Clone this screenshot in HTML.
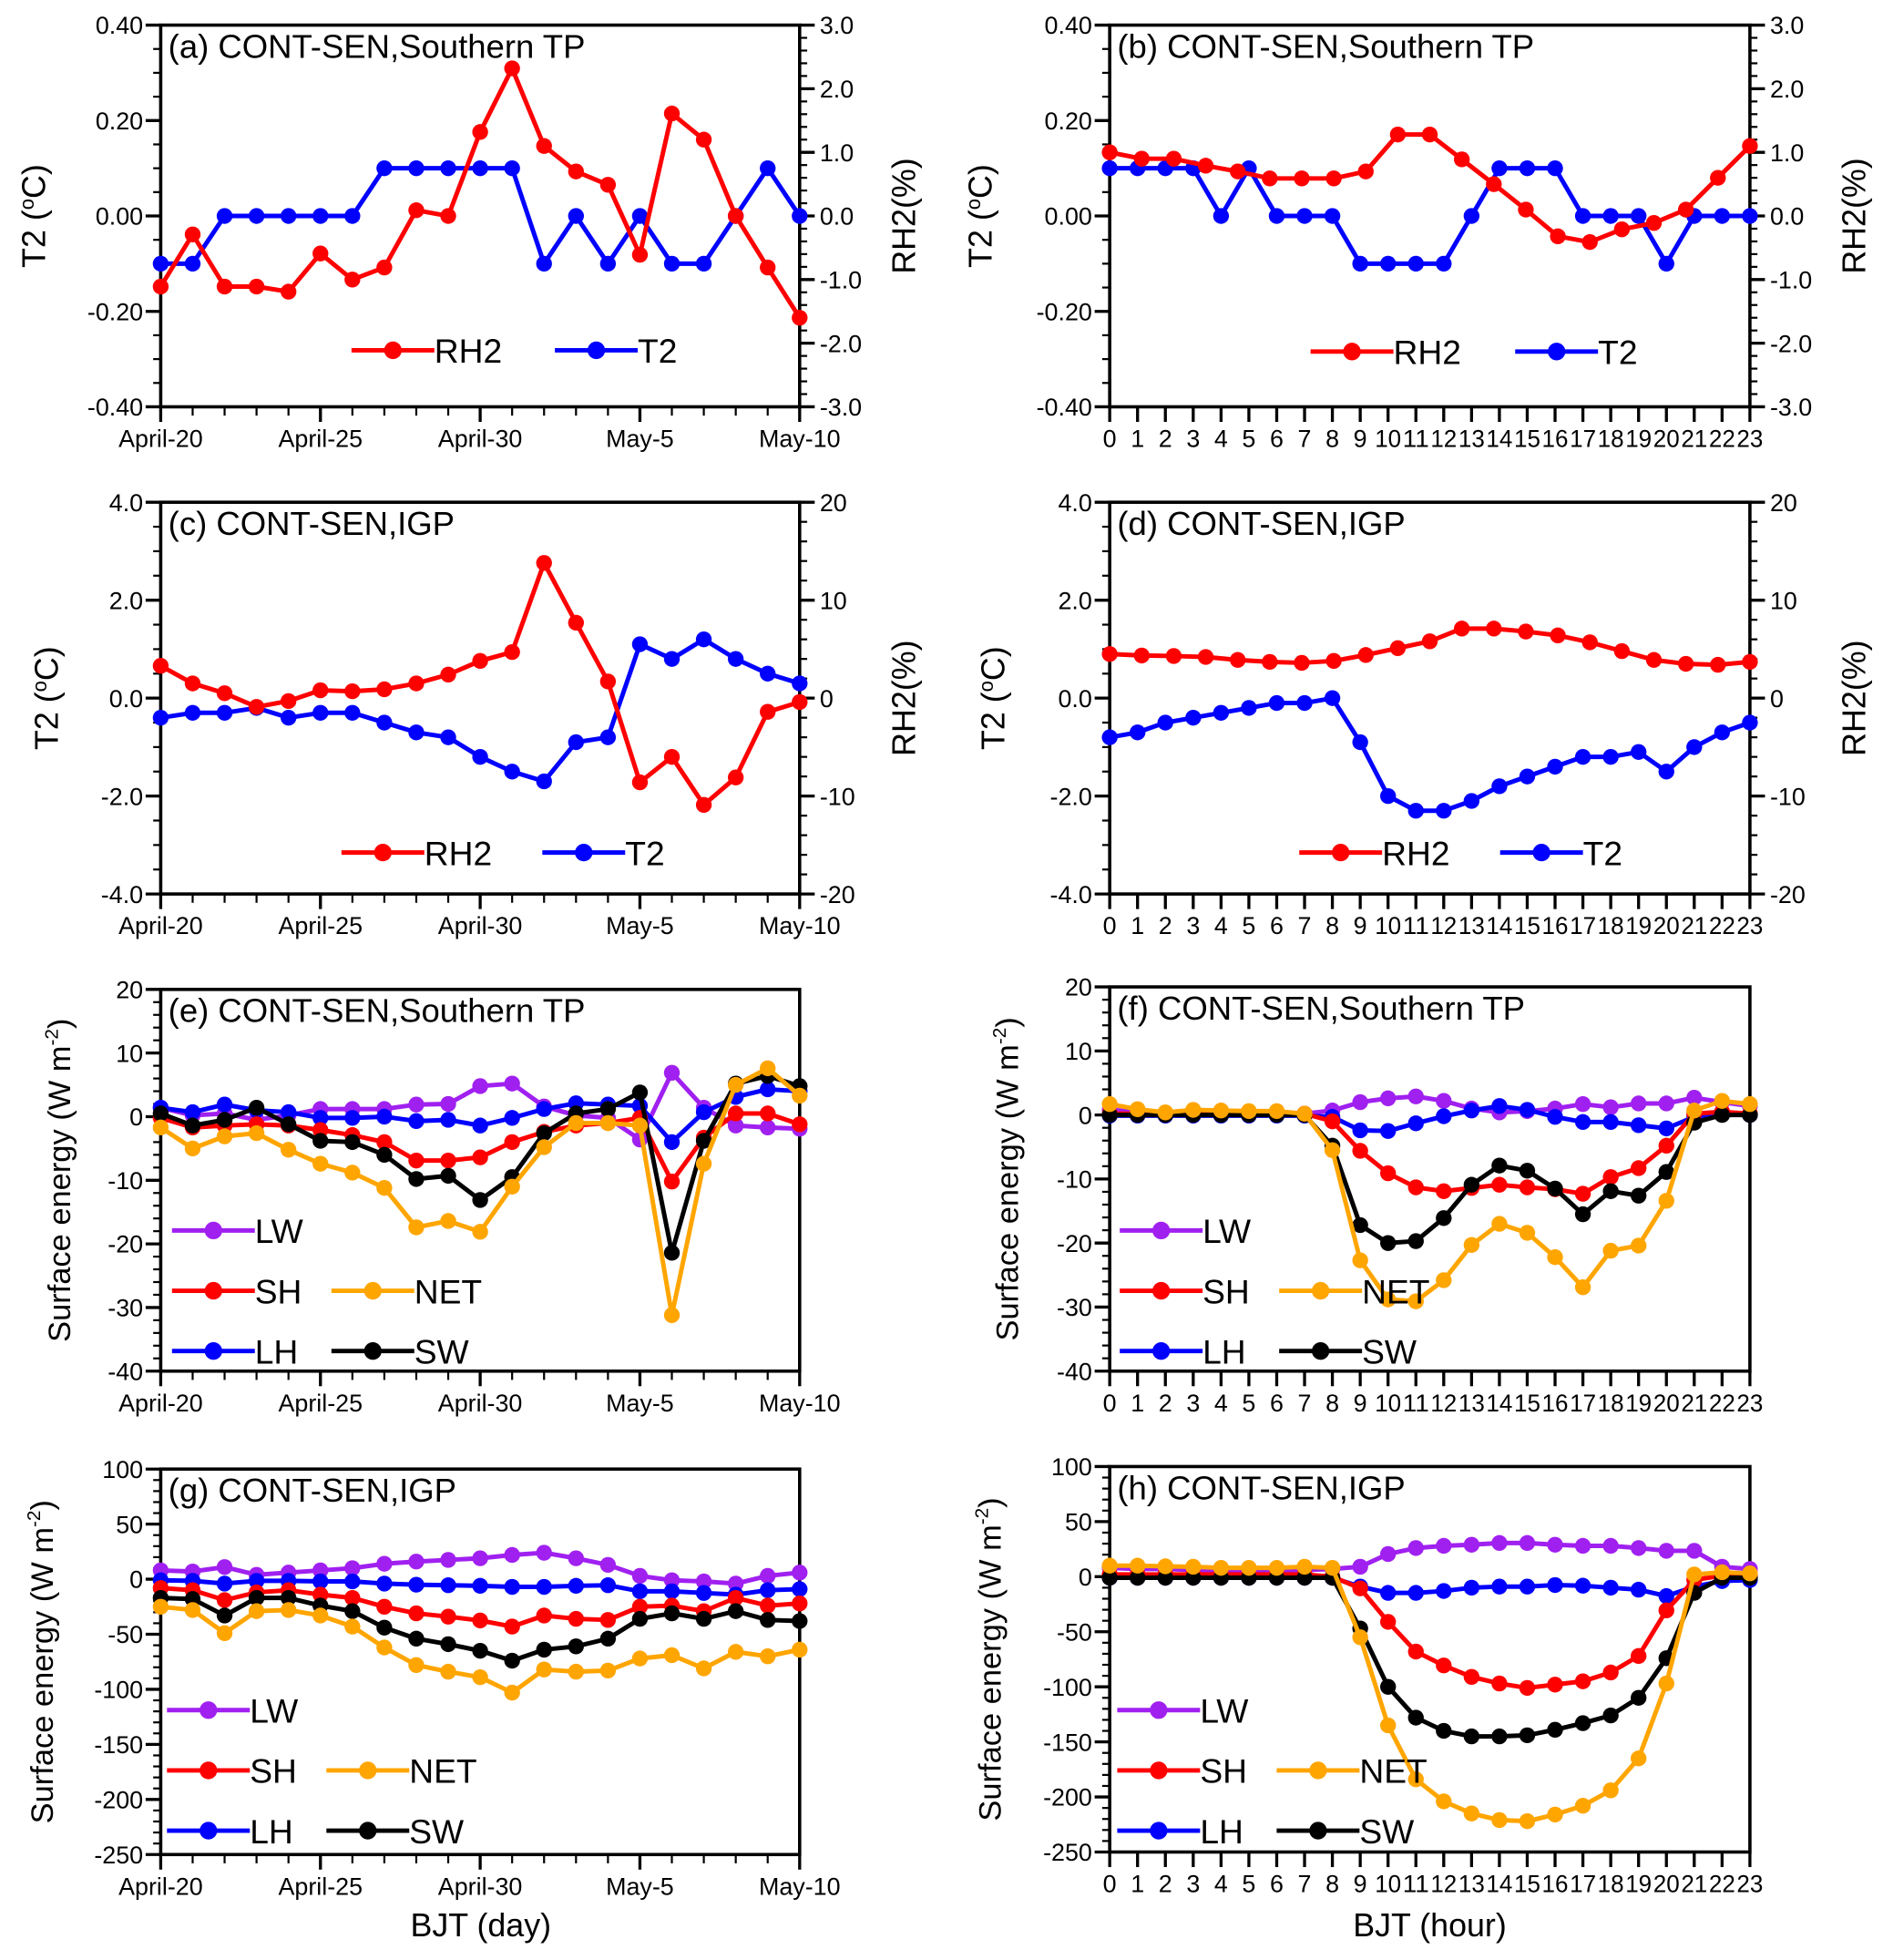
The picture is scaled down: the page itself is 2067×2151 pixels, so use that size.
<!DOCTYPE html>
<html><head><meta charset="utf-8">
<style>
html,body{margin:0;padding:0;background:#fff;}
svg{display:block;}
text{font-family:"Liberation Sans",Arial,sans-serif;fill:#000;}
.nar{font-family:"Liberation Sans Narrow","Liberation Sans",sans-serif;}
</style></head>
<body>
<svg id="fig" width="2067" height="2151" viewBox="0 0 1500 1561" xmlns="http://www.w3.org/2000/svg"></svg>
<script>
// ---------- data ----------
const dayLabels = ["April-20","April-25","April-30","May-5","May-10"];
const hourLabels = ["0","1","2","3","4","5","6","7","8","9","10","11","12","13","14","15","16","17","18","19","20","21","22","23"];
// (a)
const aRH2 = [-1.11,-0.29,-1.11,-1.11,-1.19,-0.59,-1.0,-0.81,0.09,0,1.32,2.32,1.10,0.70,0.49,-0.61,1.61,1.20,0,-0.81,-1.60];
const aT2 = [-0.1,-0.1,0,0,0,0,0,0.1,0.1,0.1,0.1,0.1,-0.1,0,-0.1,0,-0.1,-0.1,0,0.1,0];
// (b)
const bRH2 = [1.0,0.9,0.9,0.79,0.70,0.59,0.59,0.59,0.70,1.28,1.28,0.89,0.5,0.1,-0.32,-0.41,-0.21,-0.11,0.1,0.6,1.1];
const bT2 = [0.1,0.1,0.1,0.1,0,0.1,0,0,0,-0.1,-0.1,-0.1,-0.1,0,0.1,0.1,0.1,0,0,0,-0.1,0,0,0];
// (c)
const cRH2 = [3.3,1.5,0.5,-0.9,-0.3,0.8,0.7,0.9,1.5,2.4,3.8,4.7,13.8,7.7,1.7,-8.6,-6.0,-10.9,-8.1,-1.4,-0.4];
const cT2 = [-0.4,-0.3,-0.3,-0.2,-0.4,-0.3,-0.3,-0.5,-0.7,-0.8,-1.2,-1.5,-1.7,-0.9,-0.8,1.1,0.8,1.2,0.8,0.5,0.3];
// (d)
const dRH2 = [4.5,4.35,4.3,4.2,3.9,3.7,3.6,3.8,4.4,5.1,5.8,7.1,7.1,6.8,6.4,5.7,4.8,3.9,3.5,3.4,3.7];
const dT2 = [-0.8,-0.7,-0.5,-0.4,-0.3,-0.2,-0.1,-0.1,0,-0.9,-2.0,-2.3,-2.3,-2.1,-1.8,-1.6,-1.4,-1.2,-1.2,-1.1,-1.5,-1.0,-0.7,-0.5];
// (e)
const eLW = [1.4,0.2,0.5,-0.5,0.2,1.2,1.2,1.2,1.9,2.0,4.8,5.2,1.6,0.2,-0.2,-3.6,6.9,1.4,-1.4,-1.7,-1.9];
const eLH = [1.4,0.7,1.9,1.0,0.7,-0.2,-0.2,0,-0.7,-0.5,-1.4,-0.2,1.2,2.1,1.9,1.7,-4.0,0.7,3.1,4.3,4.0];
const eSH = [-0.2,-1.7,-1.4,-1.2,-1.4,-2.1,-2.9,-4.0,-6.9,-6.9,-6.4,-4.0,-2.4,-1.4,-1.0,-0.2,-10.2,-3.3,0.5,0.5,-1.2];
const eSW = [0.5,-1.4,-0.5,1.4,-1.2,-3.8,-4.0,-6.0,-9.8,-9.3,-13.1,-9.5,-2.6,0.5,1.2,3.8,-21.4,-3.8,5.2,6.4,4.8];
const eNET = [-1.7,-5.0,-3.1,-2.6,-5.2,-7.4,-8.8,-11.2,-17.4,-16.4,-18.1,-11.0,-4.8,-1.0,-1.0,-1.4,-31.2,-7.4,5.0,7.6,3.3];
// (f)
const fLW = [0.8,0.5,0.3,0.5,0.5,0.3,0.3,0.2,0.7,2.0,2.6,2.9,2.2,1.0,0.4,0.6,1.0,1.7,1.2,1.8,1.8,2.7,2.0,1.4];
const fLH = [-0.1,-0.1,-0.1,-0.1,-0.1,-0.1,-0.1,-0.1,-0.3,-2.4,-2.5,-1.3,-0.2,0.7,1.4,0.8,-0.3,-1.1,-1.1,-1.6,-2.1,-0.3,0.2,0];
const fSH = [0.2,0.2,0.2,0.2,0.2,0.2,0.2,0.2,-1.0,-5.6,-9.1,-11.3,-11.9,-11.4,-10.9,-11.3,-11.6,-12.3,-9.7,-8.3,-4.8,0.2,0.5,0.2];
const fSW = [0,0,0,0,0,0,0,0,-4.8,-17.2,-20.0,-19.7,-16.1,-10.9,-7.9,-8.7,-11.5,-15.5,-11.9,-12.6,-8.9,-1.2,0,0];
const fNET = [1.7,0.9,0.4,0.8,0.7,0.6,0.6,0.2,-5.5,-22.7,-28.8,-29.1,-25.8,-20.3,-17.0,-18.4,-22.2,-26.9,-21.2,-20.4,-13.4,0.7,2.2,1.7];
// (g)
const gLW = [8,7,11,4,6,8,10,14,16,17.5,19,22,24,19,13,3,-1,-2,-4,3,6];
const gLH = [-1,-1.5,-4,-1.5,-1.5,-2,-2,-4,-5,-5.5,-6,-7,-7,-6,-5.5,-11,-11,-12.5,-14,-10,-9];
const gSH = [-8,-10,-19,-12,-10,-14,-17,-25,-31,-34,-37.5,-43,-33,-36,-37,-25,-24,-29,-17,-24,-22];
const gSW = [-17,-18,-33,-17,-17,-24,-29,-44,-54,-59,-65,-74,-64,-61,-54,-36,-31,-36,-29,-37,-38];
const gNET = [-25,-28,-49,-29,-28,-33,-43,-62,-78,-84,-89,-103,-82,-84,-83,-72,-69,-81,-66,-70,-64];
// (h)
const hLW = [8,7,7,6,6,6,6,6,7,9,20.6,26,28,29,30.6,30.6,29,28,28,26,23.5,23.5,9,7];
const hLH = [-1,-1,-1,-1,-1,-1,-1,-1,-1,-9,-14.7,-14.7,-13,-10,-9,-9,-7.6,-8.2,-10,-11.8,-17.6,-9,-4,-3];
const hSH = [2,2,2,2,2,2,2,2,0,-10.6,-41,-68,-80.6,-91,-97,-101,-98,-95,-87,-72,-30.6,-3,1,1];
const hSW = [-1,-1,-1,-1,-1,-1,-1,-1,-1,-47,-100,-128,-140,-145,-145,-144,-139,-133,-126,-110,-74,-14.7,-1,-1];
const hNET = [10,10,9.4,9,8,8,8,9,8,-55,-135,-184,-204,-215,-221,-222,-216,-208,-194,-165,-97,2,4,3];

// ---------- drawing ----------
const NS = "http://www.w3.org/2000/svg";
const svgEl = document.getElementById('fig');
const C = {red:"#ff0000",blue:"#0000ff",purple:"#a020f0",orange:"#ffa500",black:"#000000"};
const TICKFS = 19.5;
function mk(tag, attrs, parent){
  const e = document.createElementNS(NS, tag);
  for (const k in attrs) e.setAttribute(k, attrs[k]);
  (parent||svgEl).appendChild(e);
  return e;
}
function txt(s, attrs, parent){ const t = mk('text', attrs, parent); t.textContent = s; return t; }
function fmt(v, dec){ return dec>0 ? v.toFixed(dec) : String(Math.round(v)); }

function panel(p){
  const g = mk('g', {});
  
  
  const X0=p.x0, X1=p.x1, Y0=p.y0, Y1=p.y1;
  const nx = p.hours ? 24 : 21;
  const xs = i => X0 + (X1-X0)*i/(nx-1);
  const ysL = v => Y1 - (v-p.lmin)/(p.lmax-p.lmin)*(Y1-Y0);
  const ysR = p.rmin!==undefined ? (v => Y1 - (v-p.rmin)/(p.rmax-p.rmin)*(Y1-Y0)) : null;
  const fr = mk('rect',{x:X0,y:Y0,width:X1-X0,height:Y1-Y0,fill:'none',stroke:'#000','stroke-width':2.6}, g);
  
  
  const ta = mk('g',{}, g);
  
  
  const nmin = Math.round((p.lmax-p.lmin)/p.lminor);
  for (let k=0;k<=nmin;k++){
    const v = p.lmin + k*p.lminor; const y = ysL(v);
    const q = (v-p.lmin)/p.lmajor;
    const isMaj = Math.abs(q - Math.round(q))<1e-6;
    mk('line',{x1:X0-(isMaj?12:6),x2:X0,y1:y,y2:y,stroke:'#000','stroke-width':isMaj?2.4:1.6}, ta);
    if (isMaj){
      const t = txt(fmt(v,p.ldec),{x:X0-14,y:y+7,'font-size':TICKFS,'text-anchor':'end'}, ta);
      
      
    }
  }
  if (ysR){
    const tr = mk('g',{}, g);
    
    
    const nr = Math.round((p.rmax-p.rmin)/p.rminor);
    for (let k=0;k<=nr;k++){
      const v = p.rmin + k*p.rminor; const y = ysR(v);
      const q = (v-p.rmin)/p.rmajor;
      const isMaj = Math.abs(q - Math.round(q))<1e-6;
      mk('line',{x1:X1,x2:X1+(isMaj?12:6),y1:y,y2:y,stroke:'#000','stroke-width':isMaj?2.4:1.6}, tr);
      if (isMaj){
        const t = txt(fmt(v,p.rdec),{x:X1+16,y:y+7,'font-size':TICKFS,'text-anchor':'start'}, tr);
        
        
      }
    }
  }
  const tx = mk('g',{}, g);
  
  
  for (let i=0;i<nx;i++){
    const x = xs(i);
    const maj = p.hours ? true : (i%5===0);
    mk('line',{x1:x,x2:x,y1:Y1,y2:Y1+(maj?12:7),stroke:'#000','stroke-width':maj?2.4:1.6}, tx);
    let lab = null;
    if (p.hours) lab = hourLabels[i]; else if (i%5===0) lab = dayLabels[i/5];
    if (lab!==null){
      const attrs = {x:x,y:Y1+32,'font-size':TICKFS,'text-anchor':'middle'};
      if (p.hours && lab.length>1){ attrs['textLength']=21; attrs['lengthAdjust']='spacingAndGlyphs'; }
      const t = txt(lab, attrs, tx);
      
      
    }
  }
  const tt = txt(p.title, {x:X0+6,y:Y0+26,'font-size':26.5}, g);
  
  
  const lt = mk('text',{transform:`translate(${p.ltx},${(Y0+Y1)/2}) rotate(-90)`,'font-size':p.ltfs||26,'text-anchor':'middle'}, g);
  
  
  lt.innerHTML = p.ltitle;
  if (p.rtitle){
    const rt = mk('text',{transform:`translate(${X1+92},${(Y0+Y1)/2}) rotate(-90)`,'font-size':26,'text-anchor':'middle'}, g);
    
    
    rt.textContent = p.rtitle;
  }
  p.series.forEach(s=>{
    const ysc = s.right ? ysR : ysL;
    const n = s.data.length;
    const xf = i => p.hours ? xs(i*(nx-1)/(n-1)) : xs(i);
    const sg = mk('g',{}, g);
    
    
    const pts = s.data.map((v,i)=>xf(i).toFixed(2)+','+ysc(v).toFixed(2)).join(' ');
    mk('polyline',{points:pts,fill:'none',stroke:s.color,'stroke-width':3.6,'stroke-linejoin':'round'}, sg);
    s.data.forEach((v,i)=>{
      const c = mk('circle',{cx:xf(i),cy:ysc(v),r:6.3,fill:s.color}, sg);
      
      
    });
  });
  p.legend.forEach(L=>{
    const lg = mk('g',{}, g);
    
    
    mk('line',{x1:L.x,x2:L.x+66,y1:L.y,y2:L.y,stroke:L.color,'stroke-width':3.6}, lg);
    mk('circle',{cx:L.x+33,cy:L.y,r:7,fill:L.color}, lg);
    txt(L.label, {x:L.x+66,y:L.y+10,'font-size':27}, lg);
  });
}

const T2t = 'T2 (<tspan font-size="16" dy="-9">o</tspan><tspan dy="9">C)</tspan>';
const SEt = 'Surface energy (W m<tspan font-size="15" dy="-10">-2</tspan><tspan dy="10">)</tspan>';
const LX=128, LX1=637, RX=884, RX1=1394;

function twoLeg(x, y, xsz){
  return [{x:x,y:y,color:C.red,label:'RH2'},{x:x+xsz,y:y,color:C.blue,label:'T2'}];
}
function fiveLeg(x, y0){
  return [{x:x,y:y0,color:C.purple,label:'LW'},{x:x,y:y0+48,color:C.red,label:'SH'},{x:x+127,y:y0+48,color:C.orange,label:'NET'},
          {x:x,y:y0+96,color:C.blue,label:'LH'},{x:x+127,y:y0+96,color:C.black,label:'SW'}];
}
function fiveSeries(LW,LH,SH,SW,NET){
  return [{data:LW,color:C.purple,label:'LW'},{data:LH,color:C.blue,label:'LH'},{data:SH,color:C.red,label:'SH'},
          {data:SW,color:C.black,label:'SW'},{data:NET,color:C.orange,label:'NET'}];
}
const topCfg = {lmin:-0.4,lmax:0.4,lmajor:0.2,lminor:0.05,ldec:2,rmin:-3,rmax:3,rmajor:1,rminor:0.2,rdec:1,ltitle:T2t,rtitle:'RH2(%)'};
const midCfg = {lmin:-4,lmax:4,lmajor:2,lminor:0.5,ldec:1,rmin:-20,rmax:20,rmajor:10,rminor:2,rdec:0,ltitle:T2t,rtitle:'RH2(%)'};

panel(Object.assign({},topCfg,{name:'panel-a',x0:LX,x1:LX1,y0:20,y1:324,hours:false,title:'(a) CONT-SEN,Southern TP',ltx:36,
  series:[{data:aT2,color:C.blue,label:'T2'},{data:aRH2,color:C.red,label:'RH2',right:true}],legend:twoLeg(280,279,162)}));
panel(Object.assign({},topCfg,{name:'panel-b',x0:RX,x1:RX1,y0:20,y1:324,hours:true,title:'(b) CONT-SEN,Southern TP',ltx:790,
  series:[{data:bT2,color:C.blue,label:'T2'},{data:bRH2,color:C.red,label:'RH2',right:true}],legend:twoLeg(1044,280,163)}));
panel(Object.assign({},midCfg,{name:'panel-c',x0:LX,x1:LX1,y0:400,y1:712,hours:false,title:'(c) CONT-SEN,IGP',ltx:46,
  series:[{data:cT2,color:C.blue,label:'T2'},{data:cRH2,color:C.red,label:'RH2',right:true}],legend:twoLeg(272,679,160)}));
panel(Object.assign({},midCfg,{name:'panel-d',x0:RX,x1:RX1,y0:400,y1:712,hours:true,title:'(d) CONT-SEN,IGP',ltx:800,
  series:[{data:dT2,color:C.blue,label:'T2'},{data:dRH2,color:C.red,label:'RH2',right:true}],legend:twoLeg(1035,679,160)}));
panel({name:'panel-e',x0:LX,x1:LX1,y0:788,y1:1092,hours:false,title:'(e) CONT-SEN,Southern TP',lmin:-40,lmax:20,lmajor:10,lminor:2,ldec:0,
  ltx:56,ltfs:25,ltitle:SEt,series:fiveSeries(eLW,eLH,eSH,eSW,eNET),legend:fiveLeg(137,980)});
panel({name:'panel-f',x0:RX,x1:RX1,y0:786,y1:1092,hours:true,title:'(f) CONT-SEN,Southern TP',lmin:-40,lmax:20,lmajor:10,lminor:2,ldec:0,
  ltx:811,ltfs:25,ltitle:SEt,series:fiveSeries(fLW,fLH,fSH,fSW,fNET),legend:fiveLeg(892,980)});
panel({name:'panel-g',x0:LX,x1:LX1,y0:1170,y1:1477,hours:false,title:'(g) CONT-SEN,IGP',lmin:-250,lmax:100,lmajor:50,lminor:10,ldec:0,
  ltx:42,ltfs:25,ltitle:SEt,series:fiveSeries(gLW,gLH,gSH,gSW,gNET),legend:fiveLeg(133,1362)});
panel({name:'panel-h',x0:RX,x1:RX1,y0:1168,y1:1475,hours:true,title:'(h) CONT-SEN,IGP',lmin:-250,lmax:100,lmajor:50,lminor:10,ldec:0,
  ltx:797,ltfs:25,ltitle:SEt,series:fiveSeries(hLW,hLH,hSH,hSW,hNET),legend:fiveLeg(890,1362)});

const bx = txt('BJT (day)',{x:383,y:1542,'font-size':26,'text-anchor':'middle'});


const bh = txt('BJT (hour)',{x:1139,y:1542,'font-size':26,'text-anchor':'middle'});


</script>
</body></html>
